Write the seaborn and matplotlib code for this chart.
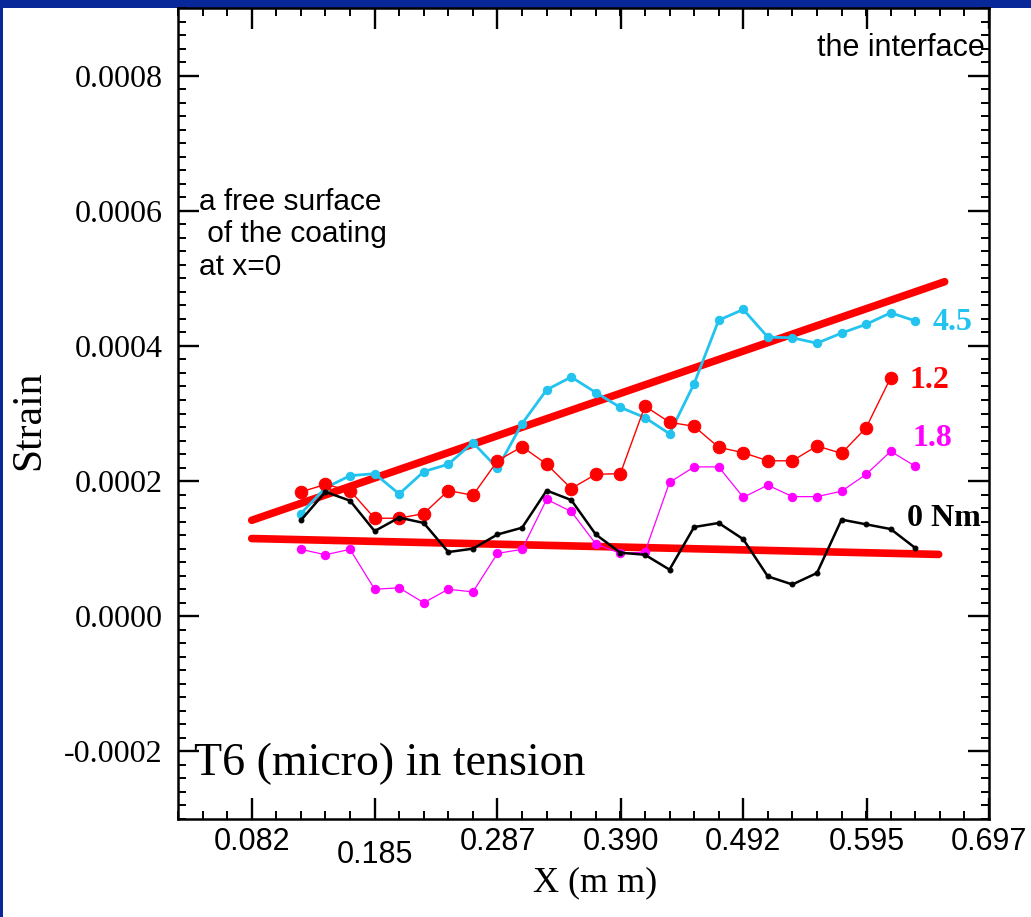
import numpy as np
import pandas as pd
import matplotlib
matplotlib.use("Agg")
import matplotlib.pyplot as plt
import seaborn as sns
from matplotlib.patches import Rectangle
from matplotlib.ticker import FixedLocator, MultipleLocator
from matplotlib.transforms import ScaledTranslation

# positions along the specimen (mm)
x_pos = [0.123, 0.1435, 0.164, 0.1845, 0.205, 0.2255, 0.246, 0.2665, 0.287,
         0.3075, 0.328, 0.3485, 0.369, 0.3895, 0.410, 0.4305, 0.451, 0.4715,
         0.492, 0.5125, 0.533, 0.5535, 0.574, 0.5945, 0.615, 0.6355]

strain_45 = [0.000152, 0.000190, 0.000208, 0.000211, 0.000181, 0.000214, 0.000225,
             0.000257, 0.000219, 0.000285, 0.000335, 0.000354, 0.000331, 0.000309,
             0.000294, 0.000270, 0.000344, 0.000438, 0.000454, 0.000413, 0.000412,
             0.000404, 0.000419, 0.000432, 0.000449, 0.000437]
strain_12 = [0.000184, 0.000195, 0.000186, 0.000145, 0.000145, 0.000152, 0.000186,
             0.000179, 0.000230, 0.000251, 0.000225, 0.000189, 0.000210, 0.000211,
             0.000311, 0.000287, 0.000281, 0.000250, 0.000242, 0.000230, 0.000230,
             0.000252, 0.000241, 0.000279, 0.000353]
strain_18 = [0.000099, 0.000091, 0.000099, 0.000040, 0.000042, 0.000020, 0.000040,
             0.000036, 0.000093, 0.000099, 0.000173, 0.000155, 0.000107, 0.000093,
             0.000095, 0.000198, 0.000221, 0.000221, 0.000176, 0.000194, 0.000177,
             0.000177, 0.000185, 0.000210, 0.000244, 0.000222]
strain_0 = [0.000142, 0.000184, 0.000171, 0.000126, 0.000146, 0.000138, 0.000095,
            0.000100, 0.000121, 0.000131, 0.000186, 0.000172, 0.000121, 0.000094,
            0.000091, 0.000069, 0.000132, 0.000138, 0.000114, 0.000059, 0.000047,
            0.000064, 0.000143, 0.000136, 0.000129, 0.000101]

# straight trend lines (end points)
fit_upper_x = [0.082, 0.660]
fit_upper_y = [0.000142, 0.000495]
fit_lower_x = [0.082, 0.655]
fit_lower_y = [0.000115, 0.0000915]

x_ticks = [0.082, 0.185, 0.287, 0.390, 0.492, 0.595, 0.697]
x_ticklabels = ["0.082", "0.185", "0.287", "0.390", "0.492", "0.595", "0.697"]
y_ticks = [-0.0002, 0.0, 0.0002, 0.0004, 0.0006, 0.0008]
y_ticklabels = ["-0.0002", "0.0000", "0.0002", "0.0004", "0.0006", "0.0008"]

BLUE = "#08289A"
CYAN = "#22C3EE"
SANS = ["Liberation Sans", "DejaVu Sans"]

sns.set_style("ticks")
plt.rcParams["font.family"] = ["Liberation Serif", "DejaVu Serif"]
plt.rcParams["text.color"] = "black"
plt.rcParams["axes.labelcolor"] = "black"

fig = plt.figure(figsize=(10.31, 9.17), dpi=100)
fig.patch.set_facecolor(BLUE)
fig.add_artist(Rectangle((3 / 1031, 0), 1, (917 - 8) / 917, transform=fig.transFigure,
                         facecolor="white", edgecolor="none", zorder=-1))
ax = fig.add_axes([178 / 1031, (917 - 819) / 917, 811 / 1031, 811 / 917])

fits = pd.concat([
    pd.DataFrame({"x": fit_upper_x, "y": fit_upper_y, "fit": "upper"}),
    pd.DataFrame({"x": fit_lower_x, "y": fit_lower_y, "fit": "lower"}),
])
sns.lineplot(data=fits, x="x", y="y", units="fit", estimator=None, color="red",
             linewidth=5.5, solid_capstyle="round", ax=ax, zorder=2)

series = [
    (strain_45, CYAN, 6, 2.0),
    (strain_12, "red", 9, 1.0),
    (strain_18, "magenta", 6, 0.9),
    (strain_0, "black", 3.5, 1.8),
]
for vals, col, ms, lw in series:
    df = pd.DataFrame({"x": x_pos[:len(vals)], "y": vals})
    sns.lineplot(data=df, x="x", y="y", color=col, marker="o", markersize=ms,
                 markeredgecolor=col, linewidth=lw, ax=ax, zorder=3)

ax.set_xlim(0.0205, 0.697)
ax.set_ylim(-0.0003, 0.0009)

ax.xaxis.set_major_locator(FixedLocator(x_ticks))
ax.set_xticklabels(x_ticklabels, family=SANS, fontsize=22)
ax.xaxis.set_minor_locator(MultipleLocator(0.0205))
ax.yaxis.set_major_locator(FixedLocator(y_ticks))
ax.set_yticklabels(y_ticklabels, fontsize=23)
ax.yaxis.set_minor_locator(MultipleLocator(0.00002))

ax.tick_params(which="both", direction="in", top=True, right=True, colors="black")
ax.tick_params(which="major", length=15, width=1.7)
ax.tick_params(which="minor", length=6, width=1.4)
ax.tick_params(axis="x", which="major", pad=6)
ax.tick_params(axis="y", which="major", pad=11)
for side in ax.spines.values():
    side.set_linewidth(1.8)
    side.set_color("black")

# 0.185 label sits lower in the original
for lbl in ax.get_xticklabels():
    if lbl.get_text() == "0.185":
        lbl.set_transform(lbl.get_transform() + ScaledTranslation(0, -0.13, fig.dpi_scale_trans))

ax.set_xlabel("X (m m)", fontsize=26)
ax.xaxis.set_label_coords(0.514, -0.058)
ax.set_ylabel("Strain", fontsize=30)
ax.yaxis.set_label_coords(-0.16, 0.492)

ax.text(0.650, 0.000435, "4.5", color=CYAN, fontsize=23, fontweight="bold", va="center")
ax.text(0.631, 0.000349, "1.2", color="red", fontsize=23, fontweight="bold", va="center")
ax.text(0.633, 0.000263, "1.8", color="magenta", fontsize=23, fontweight="bold", va="center")
ax.text(0.629, 0.000145, "0 Nm", color="black", fontsize=23, fontweight="bold", va="center")

ax.text(0.6937, 0.000841, "the interface", family=SANS, fontsize=22, ha="right", va="center")
ax.text(0.0377, 0.000634, "a free surface\n of the coating\nat x=0", family=SANS,
        fontsize=21.5, ha="left", va="top", linespacing=1.2)
ax.text(0.0335, -0.000218, "T6 (micro) in tension", fontsize=33, ha="left", va="center")

fig.savefig("out.png", dpi=100, facecolor=fig.get_facecolor())
